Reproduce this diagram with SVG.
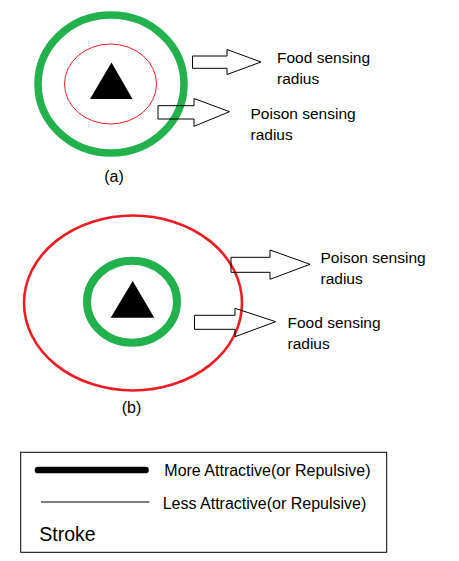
<svg xmlns="http://www.w3.org/2000/svg" width="459" height="561" viewBox="0 0 459 561">
<style>
.lbl{font-family:"Liberation Sans",Arial,sans-serif;font-size:15.5px;fill:#000}
.cap{font-family:"Liberation Sans",Arial,sans-serif;font-size:16px;fill:#000}
.arrow{fill:none;stroke:#000;stroke-width:1}
.green{fill:none;stroke:#22B14C}
.red{fill:none;stroke:#ED1C24}
</style>
<rect width="459" height="561" fill="#fff"/>
<g id="diagram-a">
<ellipse class="green" cx="111" cy="84" rx="73" ry="69" stroke-width="7.5"/>
<ellipse class="red" cx="110.5" cy="84" rx="46" ry="40" stroke-width="1"/>
<polygon points="111.5,62.5 90,99 132.5,99" fill="#000"/>
<text class="cap" x="114" y="182" text-anchor="middle">(a)</text>
</g>
<g id="diagram-b">
<ellipse class="red" cx="133" cy="303" rx="109" ry="87.5" stroke-width="2.6"/>
<ellipse class="green" cx="132" cy="301.7" rx="45" ry="41" stroke-width="8"/>
<polygon points="132.7,281 110.7,317.7 154.3,317.7" fill="#000"/>
<text class="cap" x="131.5" y="413" text-anchor="middle">(b)</text>
</g>
<g id="connectors">
<polygon class="arrow" points="192.5,56 227,56 227,49.5 261,62 227,74.5 227,68.3 192.5,68.3"/>
<polygon class="arrow" points="158,105.7 194,105.7 194,98.5 229.5,111.7 194,126.3 194,119 158,119"/>
<polygon class="arrow" points="231,257.3 270,257.3 270,250 310,264.3 270,279.3 270,272.3 231,272.3"/>
<polygon class="arrow" points="194.5,315.3 235,315.3 235,308.3 275.7,321.7 235,336.7 235,329.3 194.5,329.3"/>
</g>
<g id="labels">
<text class="lbl" x="277" y="62.5">Food sensing</text>
<text class="lbl" x="277" y="83.5">radius</text>
<text class="lbl" x="250.5" y="118.7">Poison sensing</text>
<text class="lbl" x="250.5" y="139.5">radius</text>
<text class="lbl" x="320.5" y="263.3">Poison sensing</text>
<text class="lbl" x="320.5" y="284">radius</text>
<text class="lbl" x="287.5" y="328.3">Food sensing</text>
<text class="lbl" x="287.5" y="349">radius</text>
</g>
<g id="legend">
<rect x="20.7" y="452.3" width="366" height="100" fill="none" stroke="#000" stroke-width="1"/>
<line x1="38" y1="470" x2="145.5" y2="470" stroke="#000" stroke-width="6.7" stroke-linecap="round"/>
<line x1="41" y1="502" x2="149.3" y2="502" stroke="#000" stroke-width="1"/>
<text class="cap" x="164.3" y="475.5" font-size="16.5">More Attractive(or Repulsive)</text>
<text class="cap" x="162.7" y="508.5">Less Attractive(or Repulsive)</text>
<text class="cap" x="39.3" y="541" style="font-size:19.5px">Stroke</text>
</g>
</svg>
